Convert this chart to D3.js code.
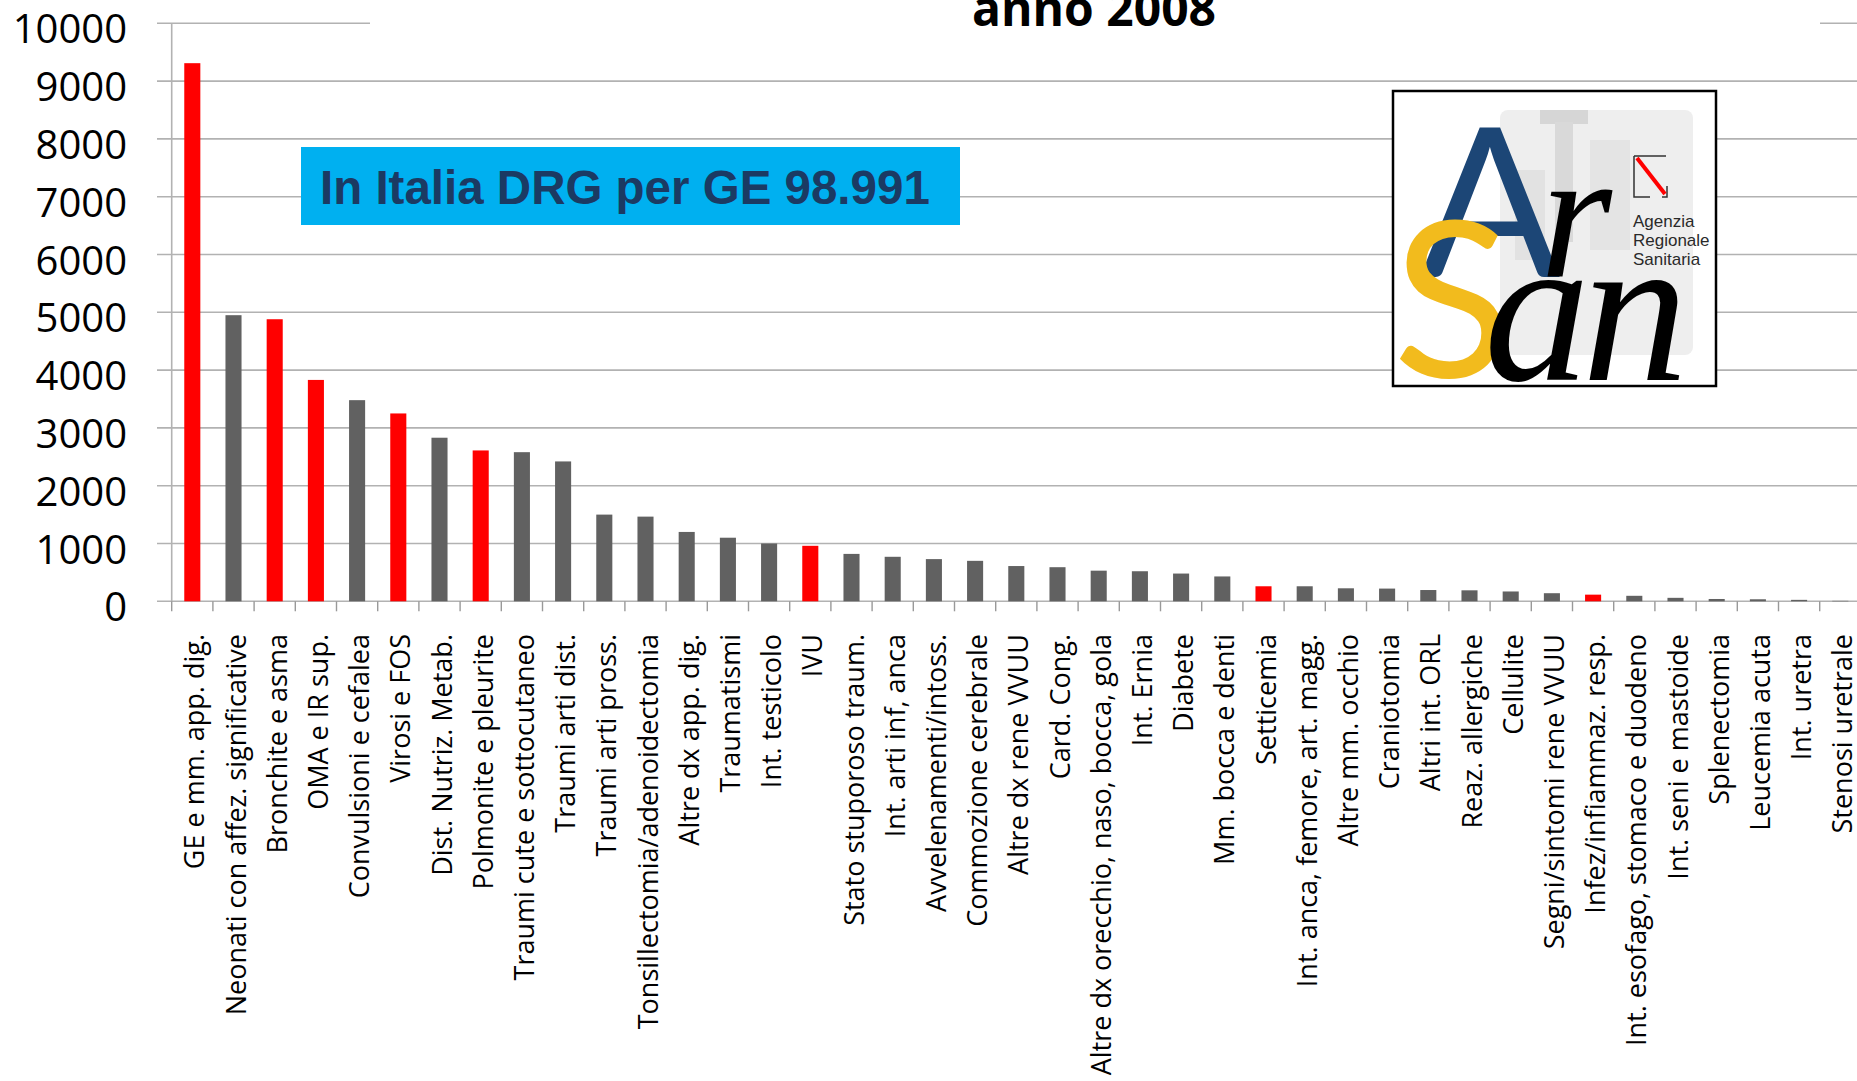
<!DOCTYPE html>
<html>
<head>
<meta charset="utf-8">
<script src="https://cdn.jsdelivr.net/npm/d3@7"></script>
<style>
  html, body { margin: 0; padding: 0; background: #fff; overflow: hidden; }
  svg { display: block; }
</style>
</head>
<body>
<svg id="chart" width="1857" height="1081"></svg>
<script>
// DRG categories, ordered by number of admissions
const categories = [
  "GE e mm. app. dig.",
  "Neonati con affez. significative",
  "Bronchite e asma",
  "OMA e IR sup.",
  "Convulsioni e cefalea",
  "Virosi e FOS",
  "Dist. Nutriz. Metab.",
  "Polmonite e pleurite",
  "Traumi cute e sottocutaneo",
  "Traumi arti dist.",
  "Traumi arti pross.",
  "Tonsillectomia/adenoidectomia",
  "Altre dx app. dig.",
  "Traumatismi",
  "Int. testicolo",
  "IVU",
  "Stato stuporoso traum.",
  "Int. arti inf, anca",
  "Avvelenamenti/intoss.",
  "Commozione cerebrale",
  "Altre dx rene VVUU",
  "Card. Cong.",
  "Altre dx orecchio, naso, bocca, gola",
  "Int. Ernia",
  "Diabete",
  "Mm. bocca e denti",
  "Setticemia",
  "Int. anca, femore, art. magg.",
  "Altre mm. occhio",
  "Craniotomia",
  "Altri int. ORL",
  "Reaz. allergiche",
  "Cellulite",
  "Segni/sintomi rene VVUU",
  "Infez/infiammaz. resp.",
  "Int. esofago, stomaco e duodeno",
  "Int. seni e mastoide",
  "Splenectomia",
  "Leucemia acuta",
  "Int. uretra",
  "Stenosi uretrale"
];

// admissions per DRG category
const admissions = [
  9310, 4950, 4880, 3830, 3480, 3250, 2830, 2610, 2580, 2420,
  1500, 1465, 1200, 1100, 1000, 960, 820, 770, 730, 700,
  610, 590, 530, 520, 480, 430, 260, 260, 225, 220,
  195, 190, 170, 140, 115, 95, 60, 40, 35, 25,
  8
];

// categories shown in red
const highlighted = [
  "GE e mm. app. dig.",
  "Bronchite e asma",
  "OMA e IR sup.",
  "Virosi e FOS",
  "Polmonite e pleurite",
  "IVU",
  "Setticemia",
  "Infez/infiammaz. resp."
];

const yTicks = [0, 1000, 2000, 3000, 4000, 5000, 6000, 7000, 8000, 9000, 10000];

const titleText = "anno 2008";
const noteText = "In Italia DRG per GE 98.991";
const logoSubtitle = ["Agenzia", "Regionale", "Sanitaria"];

const rows = categories.map((c, i) => ({ name: c, value: admissions[i], red: highlighted.includes(c) }));

const svg = d3.select("#chart");

const left = 171.7, step = 41.2;
const x = d3.scaleBand()
  .domain(categories)
  .range([left, left + step * categories.length])
  .paddingInner(0.61)
  .paddingOuter(0.305);

const y = d3.scaleLinear().domain([0, 10000]).range([601.3, 23.3]);

const gridColor = "#b2b2b2";

// horizontal gridlines (extend a little left of the axis as tick marks)
svg.append("g").selectAll("line")
  .data(yTicks)
  .join("line")
  .attr("x1", 157)
  .attr("x2", 1857)
  .attr("y1", d => y(d))
  .attr("y2", d => y(d))
  .attr("stroke", gridColor)
  .attr("stroke-width", 1.6);

// y axis labels
const yAxis = d3.axisLeft(y).tickValues(yTicks).tickSize(0).tickPadding(0).tickFormat(d3.format("d"));
const yg = svg.append("g").attr("transform", `translate(127,0)`).call(yAxis);
yg.select(".domain").remove();
yg.selectAll("text")
  .attr("font-family", "'Open Sans', sans-serif")
  .attr("font-size", 40)
  .attr("fill", "#000")
  .attr("dy", "0.49em");

// y axis line
svg.append("line")
  .attr("x1", left).attr("x2", left)
  .attr("y1", y(10000)).attr("y2", y(0))
  .attr("stroke", gridColor).attr("stroke-width", 1.6);

// category separators below the baseline
const boundaries = d3.range(categories.length + 1).map(i => x.range()[0] + i * x.step());
svg.append("g").selectAll("line")
  .data(boundaries)
  .join("line")
  .attr("x1", d => d).attr("x2", d => d)
  .attr("y1", y(0)).attr("y2", y(0) + 10)
  .attr("stroke", "#999").attr("stroke-width", 1.4);

// bars
svg.append("g").selectAll("rect")
  .data(rows)
  .join("rect")
  .attr("x", d => x(d.name))
  .attr("width", x.bandwidth())
  .attr("y", d => y(d.value))
  .attr("height", d => y(0) - y(d.value))
  .attr("fill", d => d.red ? "#ff0000" : "#616161");

// rotated category labels
svg.append("g").selectAll("text")
  .data(rows)
  .join("text")
  .attr("transform", d => `translate(${x(d.name) + x.bandwidth() / 2},634) rotate(-90)`)
  .attr("dy", 12)
  .attr("text-anchor", "end")
  .attr("font-family", "'Open Sans', sans-serif")
  .attr("font-size", 27)
  .attr("fill", "#000")
  .text(d => d.name);

// title block (white background hides the top gridline)
svg.append("rect").attr("x", 370).attr("y", 0).attr("width", 1450).attr("height", 32).attr("fill", "#fff");
svg.append("text")
  .attr("x", 1094).attr("y", 26)
  .attr("text-anchor", "middle")
  .attr("font-family", "'Open Sans', sans-serif")
  .attr("font-weight", 700)
  .attr("font-size", 48)
  .attr("fill", "#000")
  .text(titleText);

// callout box
svg.append("rect").attr("x", 301).attr("y", 147).attr("width", 659).attr("height", 78).attr("fill", "#00b0f0");
svg.append("text")
  .attr("x", 320).attr("y", 204)
  .attr("font-family", "'Liberation Sans', Arial, sans-serif")
  .attr("font-weight", 700)
  .attr("font-size", 47.5)
  .attr("fill", "#1b3a63")
  .text(noteText);

// ArSan logo
const logo = svg.append("g");
logo.append("rect").attr("x", 1393).attr("y", 91).attr("width", 323).attr("height", 295)
  .attr("fill", "#fff").attr("stroke", "#000").attr("stroke-width", 2.5);
// faded background picture
logo.append("rect").attr("x", 1500).attr("y", 110).attr("width", 193).attr("height", 245).attr("rx", 8).attr("fill", "#eeeeee");
logo.append("rect").attr("x", 1540).attr("y", 110).attr("width", 48).attr("height", 14).attr("fill", "#d6d6d6");
logo.append("rect").attr("x", 1555).attr("y", 122).attr("width", 18).attr("height", 120).attr("fill", "#d9d9d9");
logo.append("rect").attr("x", 1515).attr("y", 170).attr("width", 30).attr("height", 90).attr("fill", "#e2e2e2");
logo.append("rect").attr("x", 1590).attr("y", 140).attr("width", 40).attr("height", 110).attr("fill", "#e4e4e4");
logo.append("text").attr("x", 1490).attr("y", 277).attr("text-anchor", "middle")
  .attr("font-family", "Lato, sans-serif").attr("font-size", 208).attr("fill", "#1c4676").text("A");
logo.append("text").attr("x", 1452).attr("y", 377).attr("text-anchor", "middle")
  .attr("font-family", "Lato, sans-serif").attr("font-size", 218).attr("fill", "#f2bb1d").text("S");
logo.append("text").attr("x", 1540).attr("y", 277)
  .attr("font-family", "'Liberation Serif', serif").attr("font-style", "italic")
  .attr("font-size", 185).attr("fill", "#000").text("r");
logo.append("text").attr("x", 1484).attr("y", 380)
  .attr("font-family", "'Liberation Serif', serif").attr("font-style", "italic")
  .attr("font-size", 212).attr("letter-spacing", -8).attr("fill", "#000").text("an");
// region icon
logo.append("path").attr("d", "M1634,156 H1666 M1634,156 V197 H1650 M1662,197 H1667 V186")
  .attr("fill", "none").attr("stroke", "#333").attr("stroke-width", 1.5);
logo.append("line").attr("x1", 1637).attr("y1", 158).attr("x2", 1665).attr("y2", 194)
  .attr("stroke", "#ff0000").attr("stroke-width", 4);
logo.append("g").selectAll("text")
  .data(logoSubtitle)
  .join("text")
  .attr("x", 1633)
  .attr("y", (d, i) => 227 + i * 19)
  .attr("font-family", "'Liberation Sans Narrow', 'Liberation Sans', sans-serif")
  .attr("font-size", 17)
  .attr("fill", "#2a2a2a")
  .text(d => d);
</script>
</body>
</html>
